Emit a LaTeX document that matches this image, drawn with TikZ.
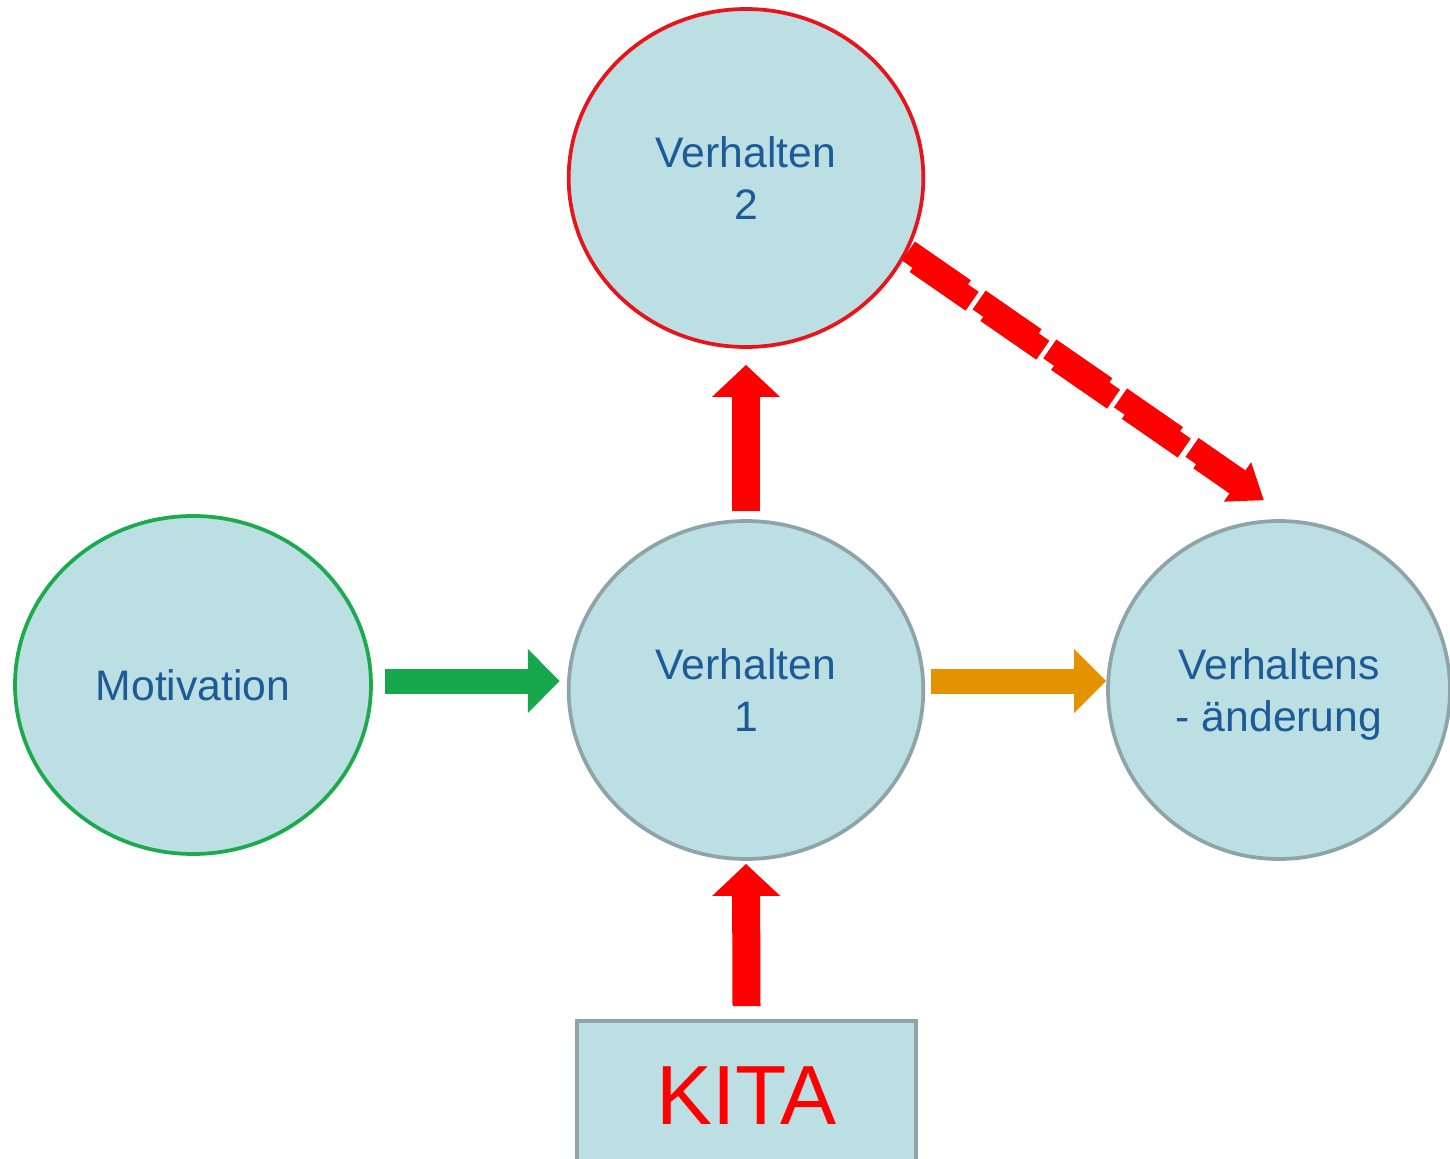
\documentclass[tikz,border=0pt]{standalone}
\usepackage{fontspec}
\setmainfont{Liberation Sans}
\usetikzlibrary{shapes.geometric,arrows.meta}
\definecolor{bubblefill}{HTML}{BBDFE3}
\definecolor{rimgray}{HTML}{8EA4A8}
\definecolor{rimred}{HTML}{E8141C}
\definecolor{rimgreen}{HTML}{1BAA4C}
\definecolor{txtblue}{HTML}{1D5A98}
\definecolor{arrgreen}{HTML}{17A84E}
\definecolor{arrorange}{HTML}{E39300}
\definecolor{arrred}{HTML}{FF0000}

\begin{document}
\begin{tikzpicture}[x=0.75pt,y=-0.75pt,
  bubble/.style={ellipse, fill=bubblefill, draw=rimgray, line width=2.8pt,
    inner sep=0pt, align=center, text=txtblue,
    font=\fontsize{32}{39}\selectfont,
    minimum width=266pt, minimum height=253.5pt},
  blockarrow/.style={draw=#1, line cap=butt},
  uparrow/.style={blockarrow=arrred, line width=21pt,
    -{Triangle[length=24pt,width=49.5pt]}},
  sidearrow/.style={blockarrow=#1, line width=18.75pt,
    -{Triangle[length=24pt,width=46.5pt]}},
  jagpiece/.style={fill=arrred, draw=none},
]
\useasboundingbox (0,0) rectangle (1450,1159);

% circles
\node[bubble, draw=rimred] (v2) at (746,178) {Verhalten\\2};
\node[bubble, draw=rimgreen, minimum width=267pt] (mot) at (193,685) {Motivation};
\node[bubble] (v1) at (746,690) {Verhalten\\1};
\node[bubble, minimum width=256.5pt, text depth=0pt] (va) at (1279,690) {Verhaltens\\- änderung};

% KITA box (runs past the lower edge)
\node[rectangle, fill=bubblefill, draw=rimgray, line width=2.8pt, inner sep=0pt,
  minimum width=254pt, minimum height=112.5pt, text=arrred,
  font=\fontsize{63}{63}\selectfont] (kita) at (746.5,1096) {KITA};

% solid block arrows
\draw[uparrow] ([yshift=6pt]v1.north) -- ([yshift=-12pt]v2.south);
\draw[uparrow] ([yshift=9.75pt]kita.north) -- ([yshift=-2.25pt]v1.south);
\draw[sidearrow=arrgreen] ([xshift=9pt,yshift=3pt]mot.east) -- ([xshift=-5.25pt,yshift=6.75pt]v1.west);
\draw[sidearrow=arrorange] ([xshift=4.5pt,yshift=6.75pt]v1.east) -- ([yshift=6.75pt]va.west);

% broken block arrow from Verhalten 2 to Verhaltensaenderung
\coordinate (ds) at (v2.-25);
\coordinate (de) at ([yshift=18pt]va.95);
\begin{scope}[shift={(ds)}, rotate=-34.7]
  \foreach \a/\b in {0/81, 86/167, 172/253, 258/339}{
    \fill[jagpiece] (\a,-14) -- ({\b-13},-14) -- ({\b-13},-9) -- (\b,-9)
      -- (\b,14) -- ({\a+13},14) -- ({\a+13},9) -- (\a,9) -- cycle;
  }
  \fill[jagpiece] (345,-14) -- (402,-14) -- (402,-24) -- (434,0) -- (402,24)
    -- (402,14) -- (358,14) -- (358,9) -- (345,9) -- cycle;
\end{scope}
\end{tikzpicture}
\end{document}
